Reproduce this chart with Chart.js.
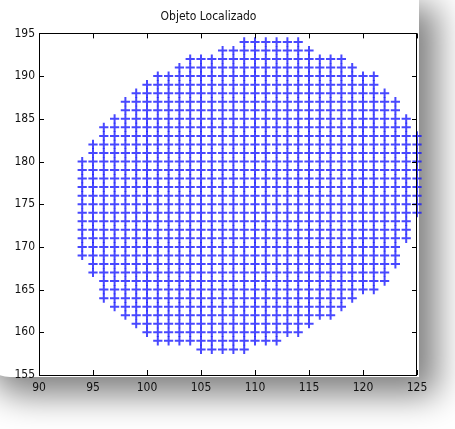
<!DOCTYPE html>
<html>
<head>
<meta charset="utf-8">
<script src="https://cdn.jsdelivr.net/npm/chart.js@4/dist/chart.umd.min.js"></script>
<style>
  html, body { margin: 0; padding: 0; background: #ffffff; overflow: hidden; }
  #wrap { position: relative; width: 455px; height: 429px; overflow: hidden; background: #ffffff; }
  #card { position: absolute; left: -20px; top: -4px; width: 439px; height: 381px; background: #ffffff;
          border-radius: 0 0 0 30px; box-shadow: 14px 14px 34px 4px rgba(0,0,0,0.5); }
  #c { position: absolute; left: 0; top: 0; }
</style>
</head>
<body>
<div id="wrap">
  <div id="card"></div>
  <canvas id="c" width="455" height="429"></canvas>
</div>
<script>
// Column positions (x) and the lowest / highest y of the '+' markers in each column
const columnX = [94, 95, 96, 97, 98, 99, 100, 101, 102, 103, 104, 105, 106, 107, 108, 109,
                 110, 111, 112, 113, 114, 115, 116, 117, 118, 119, 120, 121, 122, 123, 124, 125];
const columnLow = [169, 167, 164, 163, 162, 161, 160, 159, 159, 159, 159, 158, 158, 158, 158, 158,
                   159, 159, 159, 160, 160, 161, 162, 162, 163, 164, 165, 165, 166, 168, 171, 174];
const columnHigh = [180, 182, 184, 185, 187, 188, 189, 190, 190, 191, 192, 192, 192, 193, 193, 194,
                    194, 194, 194, 194, 194, 193, 192, 192, 192, 191, 190, 190, 188, 187, 185, 183];
const xTickValues = [90, 95, 100, 105, 110, 115, 120, 125];
const yTickValues = [155, 160, 165, 170, 175, 180, 185, 190, 195];
const chartTitle = 'Objeto Localizado';

// every integer grid point inside each column's range is a marker in the picture
const points = [];
columnX.forEach((x, i) => {
  for (let y = columnLow[i]; y <= columnHigh[i]; y++) points.push({ x: x, y: y });
});

const FONT = "'Liberation Sans Narrow', 'Arial Narrow', 'DejaVu Sans Condensed', 'Liberation Sans', sans-serif";

const frame = {
  id: 'frame',
  afterDatasetsDraw(chart) {
    const { ctx, chartArea: a, scales } = chart;
    ctx.save();
    ctx.strokeStyle = '#000';
    ctx.lineWidth = 1;
    ctx.strokeRect(Math.round(a.left) + 0.5, Math.round(a.top) + 0.5,
                   Math.round(a.right - a.left) - 1, Math.round(a.bottom - a.top));
    ctx.beginPath();
    const L = 5;
    xTickValues.forEach(v => {
      const px = Math.round(scales.x.getPixelForValue(v)) + 0.5;
      ctx.moveTo(px, a.bottom); ctx.lineTo(px, a.bottom - L);
      ctx.moveTo(px, a.top); ctx.lineTo(px, a.top + L);
    });
    yTickValues.forEach(v => {
      const py = Math.round(scales.y.getPixelForValue(v)) + 0.5;
      ctx.moveTo(a.left, py); ctx.lineTo(a.left + L, py);
      ctx.moveTo(a.right, py); ctx.lineTo(a.right - L, py);
    });
    ctx.stroke();
    ctx.restore();
  }
};

new Chart(document.getElementById('c'), {
  type: 'scatter',
  data: {
    datasets: [{
      data: points,
      pointStyle: 'cross',
      pointRadius: 4.6,
      pointHoverRadius: 4.6,
      pointBorderWidth: 2,
      borderColor: 'rgba(20,20,255,0.78)',
      backgroundColor: 'rgba(20,20,255,0.78)',
      clip: false
    }]
  },
  options: {
    responsive: false,
    animation: false,
    events: [],
    layout: { padding: { left: 0, right: 38, top: 0, bottom: 0 } },
    plugins: {
      legend: { display: false },
      tooltip: { enabled: false },
      title: {
        display: true,
        text: chartTitle,
        color: '#111',
        font: { family: FONT, size: 12, weight: 'normal' },
        padding: { top: 10, bottom: 9 }
      }
    },
    scales: {
      x: {
        type: 'linear', min: 90, max: 125,
        grid: { display: false, drawTicks: false },
        border: { display: false },
        afterBuildTicks: s => { s.ticks = xTickValues.map(v => ({ value: v })); },
        afterFit: s => { s.height = 54; },
        ticks: { color: '#111', padding: 6, maxRotation: 0, autoSkip: false,
                 font: { family: FONT, size: 12 } }
      },
      y: {
        type: 'linear', min: 155, max: 195,
        grid: { display: false, drawTicks: false },
        border: { display: false },
        afterBuildTicks: s => { s.ticks = yTickValues.map(v => ({ value: v })); },
        afterFit: s => { s.width = 39; },
        ticks: { color: '#111', padding: 4, autoSkip: false,
                 font: { family: FONT, size: 12 } }
      }
    }
  },
  plugins: [frame]
});
</script>
</body>
</html>
